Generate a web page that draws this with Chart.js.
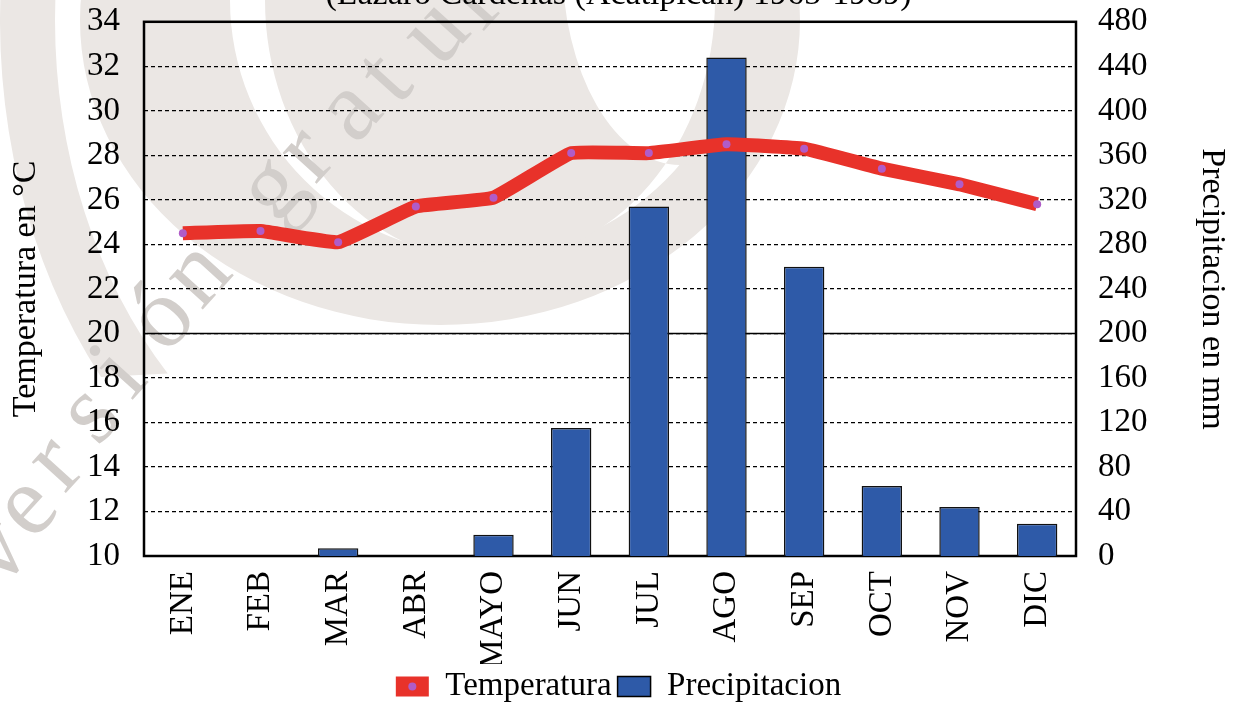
<!DOCTYPE html>
<html>
<head>
<meta charset="utf-8">
<script src="https://cdn.jsdelivr.net/npm/chart.js@4"></script>
<style>
  body { margin: 0; background: #fff; overflow: hidden; }
  #wrap { position: absolute; left: 0; top: -25px; width: 1237px; height: 738px; }
</style>
</head>
<body>
<div id="wrap"><canvas id="chart"></canvas></div>
<script>
// meses y datos
const meses = ['ENE', 'FEB', 'MAR', 'ABR', 'MAYO', 'JUN', 'JUL', 'AGO', 'SEP', 'OCT', 'NOV', 'DIC'];
const temperatura = [24.5, 24.6, 24.1, 25.7, 26.1, 28.1, 28.1, 28.5, 28.3, 27.4, 26.7, 25.8];
const precipitacion = [0, 0, 7, 0, 19, 115, 314, 448, 260, 63, 44, 29];
const titulo = '(Lazaro Cardenas (Acatlpican) 1965-1989)';
const marcaAgua = 'versión gratuita';

const serif = 'Liberation Serif';
const OFF = 25; // el canvas empieza 25px arriba de la pagina

// marca de agua gris del fondo
const fondo = {
  id: 'fondo',
  beforeDraw(chart) {
    const ctx = chart.ctx;
    ctx.save();
    ctx.translate(0, OFF);
    ctx.fillStyle = '#ebe7e4';
    // banda exterior
    ctx.beginPath();
    ctx.ellipse(440, 20, 360, 305, 0, 0, Math.PI * 2);
    ctx.ellipse(485, 0, 255, 255, 0, 0, Math.PI * 2, true);
    ctx.fill('evenodd');
    // media luna interior
    ctx.beginPath();
    ctx.ellipse(490, 0, 225, 262, 0, 0, Math.PI * 2);
    ctx.ellipse(680, -40, 118, 205, 0, 0, Math.PI * 2, true);
    ctx.fill('evenodd');
    // banda izquierda
    ctx.beginPath();
    ctx.ellipse(440, 20, 440, 560, 0, Math.PI * 0.78, Math.PI * 1.5);
    ctx.ellipse(440, 20, 385, 500, 0, Math.PI * 1.5, Math.PI * 0.75, true);
    ctx.closePath();
    ctx.fill();
    // letras
    ctx.fillStyle = '#d2cecb';
    ctx.font = '100px ' + serif;
    ctx.textBaseline = 'alphabetic';
    const x0 = 0, y0 = 590, x1 = 570, y1 = -40;
    const ang = Math.atan2(y1 - y0, x1 - x0);
    const chars = marcaAgua.split('');
    for (let i = 0; i < chars.length; i++) {
      const t = i / (chars.length - 1);
      const bend = Math.sin(t * Math.PI) * 40;
      const x = x0 + (x1 - x0) * t - bend * 0.7;
      const y = y0 + (y1 - y0) * t - bend * 0.7;
      ctx.save();
      ctx.translate(x, y);
      ctx.rotate(ang);
      ctx.fillText(chars[i], 0, 0);
      ctx.restore();
    }
    ctx.restore();
  }
};

// linea solida en 20, marco del area y punto morado en la leyenda
const marco = {
  id: 'marco',
  beforeDatasetsDraw(chart) {
    const ctx = chart.ctx;
    const a = chart.chartArea;
    const y20 = chart.scales.y.getPixelForValue(20);
    ctx.save();
    ctx.strokeStyle = '#000';
    ctx.lineWidth = 1.5;
    ctx.beginPath();
    ctx.moveTo(a.left, y20);
    ctx.lineTo(a.right, y20);
    ctx.stroke();
    ctx.lineWidth = 2.5;
    ctx.strokeRect(a.left, a.top, a.right - a.left, a.bottom - a.top);
    ctx.restore();
  },
  afterDraw(chart) {
    const box = chart.legend.legendHitBoxes[0];
    if (!box) return;
    const ctx = chart.ctx;
    const bw = chart.legend.options.labels.boxWidth;
    ctx.save();
    ctx.fillStyle = '#b05cc8';
    ctx.beginPath();
    ctx.arc(box.left + bw / 2, box.top + box.height / 2, 4, 0, Math.PI * 2);
    ctx.fill();
    ctx.restore();
  }
};

new Chart(document.getElementById('chart'), {
  type: 'bar',
  data: {
    labels: meses,
    datasets: [
      {
        type: 'line',
        label: 'Temperatura',
        data: temperatura,
        yAxisID: 'y',
        borderColor: '#e8322a',
        backgroundColor: '#e8322a',
        borderWidth: 14,
        pointRadius: 4,
        pointBackgroundColor: '#b05cc8',
        pointBorderWidth: 0,
        tension: 0.1,
        order: 0
      },
      {
        label: 'Precipitacion',
        data: precipitacion,
        yAxisID: 'y1',
        backgroundColor: '#2e5aa8',
        borderColor: '#111',
        borderWidth: 1.5,
        barPercentage: 0.52,
        categoryPercentage: 1,
        order: 1
      }
    ]
  },
  options: {
    responsive: true,
    maintainAspectRatio: false,
    animation: false,
    layout: { padding: 0 },
    plugins: {
      title: {
        display: true,
        text: titulo,
        color: '#000',
        font: { family: serif, size: 34, weight: 'normal' },
        padding: { top: 0, bottom: 6 }
      },
      legend: {
        position: 'bottom',
        labels: {
          color: '#000',
          font: { family: serif, size: 33 },
          boxWidth: 33,
          boxHeight: 20,
          padding: 6,
          generateLabels(chart) {
            const items = Chart.defaults.plugins.legend.labels.generateLabels(chart);
            items[0].lineWidth = 0;
            items[0].fillStyle = '#e8322a';
            items[1].lineWidth = 1.5;
            items[1].strokeStyle = '#000';
            return items;
          }
        }
      },
      tooltip: { enabled: false }
    },
    scales: {
      x: {
        grid: { display: false, drawTicks: false },
        border: { display: false },
        ticks: {
          color: '#000',
          font: { family: serif, size: 33 },
          minRotation: 90,
          maxRotation: 90,
          padding: 15
        },
        afterFit(scale) { scale.height = 108; }
      },
      y: {
        position: 'left',
        min: 10,
        max: 34,
        ticks: { stepSize: 2, color: '#000', font: { family: serif, size: 33 }, padding: 24 },
        grid: { color: '#000', lineWidth: 1.3, drawTicks: false },
        border: { display: false, dash: [4, 3] },
        title: { display: true, text: 'Temperatura en °C', color: '#000', font: { family: serif, size: 34 }, padding: { top: 6, bottom: 0 } },
        afterFit(scale) { scale.width = 144; }
      },
      y1: {
        position: 'right',
        min: 0,
        max: 480,
        ticks: { stepSize: 40, color: '#000', font: { family: serif, size: 33 }, padding: 22 },
        grid: { display: false, drawTicks: false },
        border: { display: false },
        title: { display: true, text: 'Precipitacion en mm', color: '#000', font: { family: serif, size: 34 }, padding: { top: 5, bottom: 0 } },
        afterFit(scale) { scale.width = 161; }
      }
    }
  },
  plugins: [fondo, marco]
});
</script>
</body>
</html>
